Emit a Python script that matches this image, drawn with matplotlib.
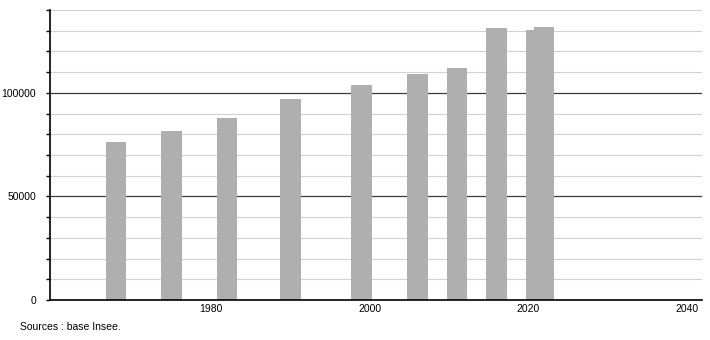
import numpy as np
import matplotlib.pyplot as plt

plt.rcParams['font.family'] = ['Liberation Sans', 'DejaVu Sans']

years = [1968, 1975, 1982, 1990, 1999, 2006, 2011, 2016, 2021, 2022]
population = [76100, 81700, 88000, 97200, 104000, 108900, 111800, 131500, 130400, 131800]

fig = plt.figure(figsize=(7.1, 3.4), dpi=100)
ax = fig.add_axes([50/710, 40/340, 652/710, 290/340])

# grid: light every 10000, dark every 50000
for v in range(10000, 140001, 10000):
    if v % 50000 == 0:
        ax.axhline(v, color='#3a3a3a', lw=0.9, zorder=1)
    else:
        ax.axhline(v, color='#d2d2d2', lw=0.8, zorder=1)

ax.bar(years, population, width=2.6, color='#afafaf', zorder=2)

ax.set_xlim(1959.7, 2041.9)
ax.set_ylim(0, 140000)
ax.set_xticks([1980, 2000, 2020, 2040])
ax.set_yticks(np.arange(0, 140001, 10000))
ax.set_yticklabels(['0' if v == 0 else (str(v) if v % 50000 == 0 else '')
                    for v in range(0, 140001, 10000)])
ax.tick_params(axis='x', length=0, labelsize=7.5, pad=3)
ax.tick_params(axis='y', length=3, width=1, labelsize=7.5, pad=7)
for s in ['top', 'right']:
    ax.spines[s].set_visible(False)
ax.spines['left'].set_linewidth(1.2)
ax.spines['bottom'].set_linewidth(1.2)

fig.text(20/710, 1 - 327/340, 'Sources : base Insee.', fontsize=7.5, va='center')

fig.savefig('out.png', dpi=100)
